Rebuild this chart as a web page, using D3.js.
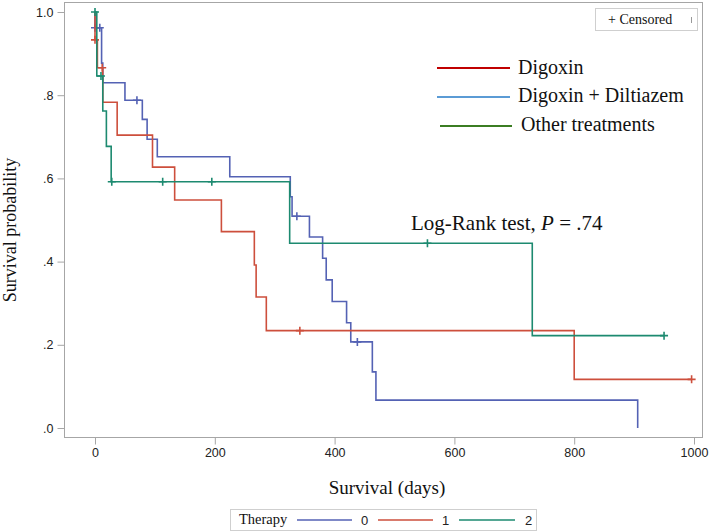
<!DOCTYPE html>
<html><head><meta charset="utf-8">
<script src="https://cdn.jsdelivr.net/npm/d3@7"></script>
<style>body{margin:0;background:#fff}svg{display:block}</style>
</head><body>
<script>
// ---- data ----
const xTicks = [0, 200, 400, 600, 800, 1000];
const xTickLabels = ["0", "200", "400", "600", "800", "1000"];
const yTicks = [0, 0.2, 0.4, 0.6, 0.8, 1.0];
const yTickLabels = [".0", ".2", ".4", ".6", ".8", "1.0"];

const t0Times = [0, 0, 11, 13, 50, 79, 87, 104, 225, 326, 329, 358, 380, 386, 396, 420, 427, 463, 469, 906];
const t0Surv  = [1.0, 0.962, 0.877, 0.830, 0.788, 0.742, 0.694, 0.652, 0.604, 0.556, 0.509, 0.459, 0.408, 0.356, 0.304, 0.253, 0.207, 0.135, 0.067, 0];
const t0Censor = [0, 8, 70, 337, 438];
const t0End = 906;

const t1Times = [0, 0, 4, 13, 37, 96, 133, 211, 266, 269, 286, 800];
const t1Surv  = [1.0, 0.933, 0.866, 0.783, 0.704, 0.627, 0.548, 0.472, 0.392, 0.315, 0.234, 0.117];
const t1Censor = [0, 12, 342, 996];
const t1End = 996;

const t2Times = [0, 3, 13, 19, 27, 325, 730];
const t2Surv  = [1.0, 0.846, 0.762, 0.677, 0.592, 0.444, 0.222];
const t2Censor = [0, 10, 28, 113, 195, 555, 950];
const t2End = 950;

const therapyLabels = ["0", "1", "2"];
const treatmentNames = ["Digoxin", "Digoxin + Diltiazem", "Other treatments"];
const pText = "Log-Rank test, ";

// ---- layout ----
const W = 709, H = 532;
const curveColors = ["#5462b4", "#cd4f3c", "#1d8a70"];
const legendColors = ["#c00000", "#5b9bd5", "#3b7d23"];
const serif = "'Liberation Serif','Times New Roman',serif";
const sans = "'Liberation Sans',Arial,sans-serif";

const svg = d3.select("body").append("svg").attr("width", W).attr("height", H);

const x = d3.scaleLinear().domain([0, 1000]).range([95, 694]);
const y = d3.scaleLinear().domain([0, 1]).range([428, 12]);

const frame = {x: 64, y: 2, w: 638, h: 435};
svg.append("rect").attr("x", frame.x + 0.5).attr("y", frame.y + 0.5)
  .attr("width", frame.w).attr("height", frame.h)
  .attr("fill", "none").attr("stroke", "#a6a6a6").attr("stroke-width", 1);

// x axis
const xAxis = d3.axisBottom(x).tickValues(xTicks).tickFormat((d, i) => xTickLabels[i])
  .tickSize(7).tickPadding(4).tickSizeOuter(0);
const gx = svg.append("g").attr("transform", `translate(0,${frame.y + frame.h + 0.5})`).call(xAxis);
gx.select(".domain").remove();
gx.selectAll(".tick line").attr("stroke", "#a6a6a6");
gx.selectAll(".tick text").attr("font-family", sans).attr("font-size", 12.5).attr("fill", "#222");

// y axis
const yAxis = d3.axisLeft(y).tickValues(yTicks).tickFormat((d, i) => yTickLabels[i]).tickSize(7).tickPadding(4);
const gy = svg.append("g").attr("transform", `translate(${frame.x + 0.5},0)`).call(yAxis);
gy.select(".domain").remove();
gy.selectAll(".tick line").attr("stroke", "#a6a6a6");
gy.selectAll(".tick text").attr("font-family", sans).attr("font-size", 12.5).attr("fill", "#222");

// axis titles
svg.append("text").attr("x", 387).attr("y", 494).attr("text-anchor", "middle")
  .attr("font-family", serif).attr("font-size", 19).attr("fill", "#111").text("Survival (days)");
svg.append("text").attr("transform", "translate(16,230) rotate(-90)").attr("text-anchor", "middle")
  .attr("font-family", serif).attr("font-size", 18).attr("fill", "#111").text("Survival probability");

// curves
const series = [
  {times: t0Times, surv: t0Surv, cens: t0Censor, end: t0End},
  {times: t1Times, surv: t1Surv, cens: t1Censor, end: t1End},
  {times: t2Times, surv: t2Surv, cens: t2Censor, end: t2End}
];
const line = d3.line().x(d => x(d[0])).y(d => y(d[1])).curve(d3.curveStepAfter);
function survAt(s, t) {
  let v = s.surv[0];
  for (let i = 0; i < s.times.length; i++) if (s.times[i] <= t) v = s.surv[i];
  return v;
}
[0, 1, 2].forEach(i => {
  const s = series[i];
  const pts = s.times.map((t, k) => [t, s.surv[k]]);
  pts.push([s.end, s.surv[s.surv.length - 1]]);
  svg.append("path").attr("d", line(pts)).attr("fill", "none")
    .attr("stroke", curveColors[i]).attr("stroke-width", 1.6);
  s.cens.forEach(t => {
    const cx = x(t), cy = y(survAt(s, t));
    svg.append("path").attr("d", `M${cx - 4},${cy}H${cx + 4}M${cx},${cy - 4}V${cy + 4}`)
      .attr("stroke", curveColors[i]).attr("stroke-width", 1.6).attr("fill", "none");
  });
});

// censored box
svg.append("rect").attr("x", 595.5).attr("y", 8.5).attr("width", 102).attr("height", 22)
  .attr("fill", "#fff").attr("stroke", "#cfcfcf");
svg.append("text").attr("x", 608).attr("y", 24).attr("font-family", serif).attr("font-size", 14)
  .attr("fill", "#111").text("+ Censored");
svg.append("line").attr("x1", 691.5).attr("x2", 691.5).attr("y1", 17).attr("y2", 23)
  .attr("stroke", "#999");

// treatment legend
const legY = [68, 97, 126];
const legBase = [73.5, 102, 131];
const legX1 = [437, 437, 440], legX2 = [510, 510, 512], legTX = [518, 518, 521];
treatmentNames.forEach((n, i) => {
  svg.append("line").attr("x1", legX1[i]).attr("x2", legX2[i]).attr("y1", legY[i]).attr("y2", legY[i])
    .attr("stroke", legendColors[i]).attr("stroke-width", 2);
  svg.append("text").attr("x", legTX[i]).attr("y", legBase[i]).attr("font-family", serif)
    .attr("font-size", 20).attr("fill", "#111").text(n);
});

// log-rank text
const lr = svg.append("text").attr("x", 411).attr("y", 230).attr("font-family", serif)
  .attr("font-size", 21).attr("fill", "#111");
lr.append("tspan").text(pText);
lr.append("tspan").attr("font-style", "italic").text("P");
lr.append("tspan").text(" = .74");

// bottom legend
svg.append("rect").attr("x", 230.5).attr("y", 509.5).attr("width", 306).attr("height", 21)
  .attr("fill", "#fff").attr("stroke", "#cfcfcf");
svg.append("text").attr("x", 239).attr("y", 524).attr("font-family", serif).attr("font-size", 14.5)
  .attr("fill", "#111").text("Therapy");
const bx1 = [297, 378, 459], bx2 = [352, 433, 515], btx = [361, 442, 525];
therapyLabels.forEach((l, i) => {
  svg.append("line").attr("x1", bx1[i]).attr("x2", bx2[i]).attr("y1", 520).attr("y2", 520)
    .attr("stroke", curveColors[i]).attr("stroke-width", 1.5);
  svg.append("text").attr("x", btx[i]).attr("y", 525).attr("font-family", sans).attr("font-size", 13)
    .attr("fill", "#222").text(l);
});
</script>
</body></html>
